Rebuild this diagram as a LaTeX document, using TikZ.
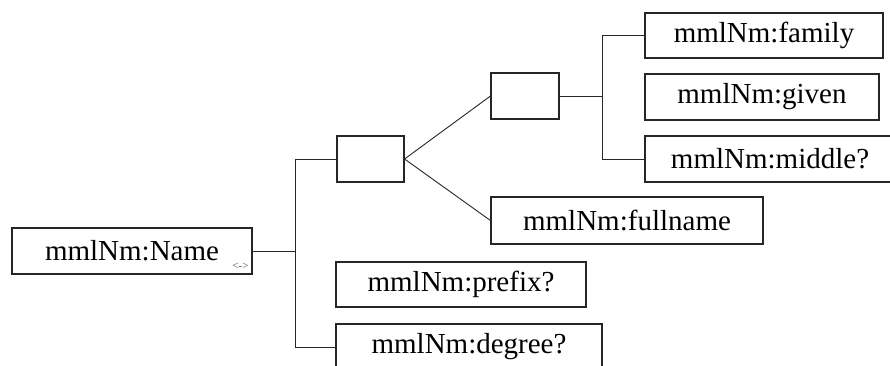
\documentclass[tikz,border=0pt]{standalone}
\usepackage{fontspec}
\setmainfont{Liberation Serif}
\begin{document}
\begin{tikzpicture}[x=1pt,y=-1pt,
  box/.style={draw=black!85, line width=1.1pt, rectangle, inner sep=0pt,
    font=\fontsize{29}{31}\selectfont, text=black},
  conn/.style={draw=black!85, line width=0.9pt}]
\useasboundingbox (0,0) rectangle (890,365);
\clip (0,0) rectangle (890,365);
% nodes
\node[box, minimum width=240pt, minimum height=46pt] (name) at (132,251) {mmlNm:Name\hspace{18pt}};
\node[font=\fontsize{11}{12}\selectfont, text=black!70, inner sep=0pt] (nameicon) at (240.5,266.5) {<->};
\node[box, minimum width=67pt, minimum height=46pt] (seqa) at (370.5,159) {};
\node[box, minimum width=68pt, minimum height=46pt] (choice) at (525,96) {};
\node[box, minimum width=238pt, minimum height=45pt] (family) at (764,35.5) {mmlNm:family};
\node[box, minimum width=234pt, minimum height=46pt] (given) at (762,97) {mmlNm:given};
\node[box, minimum width=250pt, minimum height=46pt] (middle) at (770,159) {mmlNm:middle?};
\node[box, minimum width=272pt, minimum height=47pt] (fullname) at (627,220.5) {mmlNm:fullname};
\node[box, minimum width=250pt, minimum height=45pt] (prefix) at (461,284.5) {mmlNm:prefix?};
\node[box, minimum width=266pt, minimum height=46pt] (degree) at (469,347) {mmlNm:degree?};
% connectors
\draw[conn] (name.east) -- ++(43,0) coordinate (ja);
\draw[conn] (seqa.west) -| (ja) |- (degree.west);
\draw[conn] (seqa.east) -- (choice.west);
\draw[conn] (seqa.east) -- (fullname.west);
\draw[conn] (choice.east) -- ++(43,0) coordinate (jb);
\draw[conn] (family.west) -| (jb) |- (middle.west);
\end{tikzpicture}
\end{document}
